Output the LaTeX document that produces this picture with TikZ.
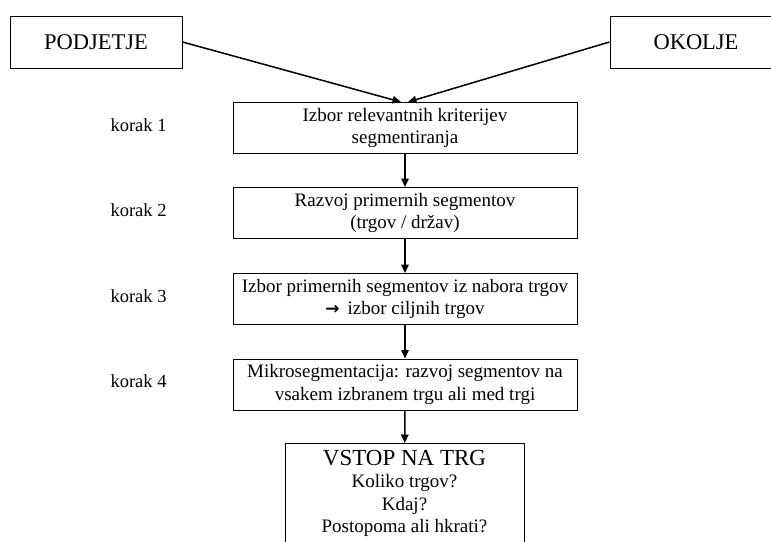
\documentclass[tikz,border=0pt]{standalone}
\usepackage{fontspec}
\setmainfont{Liberation Serif}
\newfontfamily\arrowfont{DejaVu Sans}
\usetikzlibrary{arrows.meta}
\begin{document}
\begin{tikzpicture}[x=1pt,y=-1pt,
  stepbox/.style={draw, line width=1pt, minimum width=344pt, minimum height=51pt,
    align=center, inner sep=0pt, font=\fontsize{19}{22.5}\selectfont},
  sidebox/.style={draw, line width=1pt, minimum width=172pt, minimum height=52pt,
    inner sep=0pt, font=\fontsize{22.5}{26}\selectfont},
  steplabel/.style={inner sep=0pt, font=\fontsize{18.5}{22}\selectfont},
  arr/.style={-{Triangle[length=8.5pt,width=7.5pt]}, line width=1.5pt}
]
\useasboundingbox (0,0) rectangle (771,541);

% inputs
\node[sidebox] (podjetje) at (96,42) {PODJETJE};
\node[sidebox] (okolje) at (696,42) {OKOLJE};

% process steps
\node[stepbox] (s1) at (405,128) {Izbor relevantnih kriterijev\\segmentiranja};
\node[stepbox] (s2) at (405,213) {Razvoj primernih segmentov\\(trgov / držav)};
\node[stepbox] (s3) at (405,299) {Izbor primernih segmentov iz nabora trgov\\{\arrowfont\bfseries\fontsize{17}{22}\selectfont →}\, izbor ciljnih trgov};
\node[stepbox] (s4) at (405,384.5) {Mikrosegmentacija: razvoj segmentov na\\vsakem izbranem trgu ali med trgi};

% step labels
\node[steplabel] (k1) at (138.5,125) {korak 1};
\node[steplabel] (k2) at (138.5,210) {korak 2};
\node[steplabel] (k3) at (138.5,296) {korak 3};
\node[steplabel] (k4) at (138.5,381) {korak 4};

% market entry box (runs past the lower edge)
\node[draw, line width=1pt, minimum width=239pt, minimum height=120pt,
  anchor=north, inner sep=0pt] (vstop) at (404.5,443) {};
\node[anchor=north, align=center, inner sep=0pt,
  font=\fontsize{19}{22.5}\selectfont] (vstoptext) at ([yshift=-7pt]vstop.north)
  {{\fontsize{23}{22}\selectfont VSTOP NA TRG}\\Koliko trgov?\\Kdaj?\\Postopoma ali hkrati?};

% connectors
\draw[arr] (podjetje.east) -- ([xshift=-4pt]s1.north);
\draw[arr] (okolje.west) -- ([xshift=3pt]s1.north);
\draw[arr] (s1) -- (s2);
\draw[arr] (s2) -- (s3);
\draw[arr] (s3) -- (s4);
\draw[arr] (s4) -- (vstop);
\end{tikzpicture}
\end{document}
